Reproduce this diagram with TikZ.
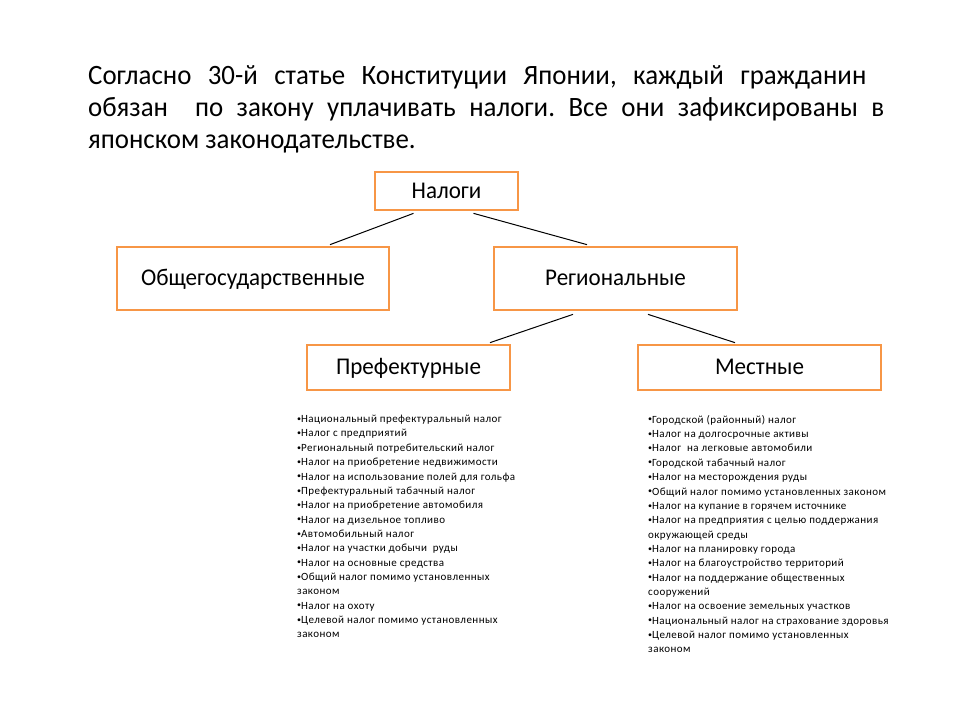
\documentclass[tikz,border=0pt]{standalone}
\usepackage{fontspec}
\setmainfont{Carlito}
\newfontfamily\bigf{Carlito}[FakeStretch=0.96]
\newfontfamily\smallf{Carlito}[LetterSpace=4]
\usetikzlibrary{calc}
\definecolor{org}{HTML}{F79646}
\newcommand{\bul}{\raisebox{0.12em}{\fontsize{8}{8}\selectfont •}}
\frenchspacing
\begin{document}
\begin{tikzpicture}[x=1pt,y=-1pt,
  box/.style={draw=org, line width=2.7pt, fill=white, inner sep=0pt, text height=18pt, text depth=4pt, font=\bigf\fontsize{24}{28}\selectfont},
  conn/.style={line width=1pt, black},
  title/.style={anchor=base west, inner sep=0pt, font=\bigf\fontsize{28}{32}\selectfont},
  list/.style={anchor=north west, align=left, inner sep=0pt, font=\smallf\fontsize{11}{14.35}\selectfont}]
\useasboundingbox (0,0) rectangle (960,720);
\fill[white] (0,0) rectangle (960,720);

\node[title] (t1) at (88,84) {\makebox[778pt][s]{Согласно 30-й статье Конституции Японии, каждый гражданин}};
\node[title] (t2) at (88,116) {\makebox[796pt][s]{обязан \ по закону уплачивать налоги. Все они зафиксированы в}};
\node[title] (t3) at (88,148) {японском законодательстве.};

\node[box, minimum width=143pt, minimum height=38pt] (nal) at (446.5,191) {Налоги};
\node[box, minimum width=272pt, minimum height=63pt] (obs) at (253,278.5) {Общегосударственные};
\node[box, minimum width=243pt, minimum height=63pt] (reg) at (615.5,278.5) {Региональные};
\node[box, minimum width=203pt, minimum height=45pt] (pref) at (408.5,367.5) {Префектурные};
\node[box, minimum width=243pt, minimum height=45pt] (mest) at (759.5,367.5) {Местные};

\draw[conn] ($(nal.south)+(-33,2)$) -- ($(obs.north)+(77,-1)$);
\draw[conn] ($(nal.south)+(27,2)$) -- ($(reg.north)+(-28.5,-1)$);
\draw[conn] ($(reg.south)+(-42.5,3)$) -- ($(pref.north)+(81.5,-1)$);
\draw[conn] ($(reg.south)+(32.5,3)$) -- ($(mest.north)+(-24.5,-1)$);

\node[list] (l1) at (297,415) {%
\bul Национальный префектуральный налог\\
\bul Налог с предприятий\\
\bul Региональный потребительский налог\\
\bul Налог на приобретение недвижимости\\
\bul Налог на использование полей для гольфа\\
\bul Префектуральный табачный налог\\
\bul Налог на приобретение автомобиля\\
\bul Налог на дизельное топливо\\
\bul Автомобильный налог\\
\bul Налог на участки добычи \ руды\\
\bul Налог на основные средства\\
\bul Общий налог помимо установленных\\
законом\\
\bul Налог на охоту\\
\bul Целевой налог помимо установленных\\
законом};

\node[list] (l2) at (648,415) {%
\bul Городской (районный) налог\\
\bul Налог на долгосрочные активы\\
\bul Налог \ на легковые автомобили\\
\bul Городской табачный налог\\
\bul Налог на месторождения руды\\
\bul Общий налог помимо установленных законом\\
\bul Налог на купание в горячем источнике\\
\bul Налог на предприятия с целью поддержания\\
окружающей среды\\
\bul Налог на планировку города\\
\bul Налог на благоустройство территорий\\
\bul Налог на поддержание общественных\\
сооружений\\
\bul Налог на освоение земельных участков\\
\bul Национальный налог на страхование здоровья\\
\bul Целевой налог помимо установленных\\
законом};
\end{tikzpicture}
\end{document}
